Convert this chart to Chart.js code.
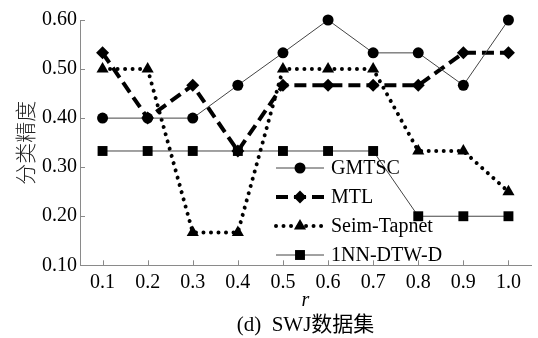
<!DOCTYPE html>
<html>
<head>
<meta charset="utf-8">
<script src="https://cdn.jsdelivr.net/npm/chart.js"></script>
<style>
	html, body { margin: 0; padding: 0; background: #fff; }
	#wrap { width: 538px; height: 338px; position: relative; }
</style>
</head>
<body>
<div id="wrap"><canvas id="myChart"></canvas></div>
<script>
// values (d) SWJ
const rValues = ["0.1", "0.2", "0.3", "0.4", "0.5", "0.6", "0.7", "0.8", "0.9", "1.0"];
const gmtsc = [0.400, 0.400, 0.400, 0.467, 0.533, 0.600, 0.533, 0.533, 0.467, 0.600];
const mtl = [0.533, 0.400, 0.467, 0.333, 0.467, 0.467, 0.467, 0.467, 0.533, 0.533];
const seimTapnet = [0.500, 0.500, 0.167, 0.167, 0.500, 0.500, 0.500, 0.333, 0.333, 0.250];
const nnDtw = [0.333, 0.333, 0.333, 0.333, 0.333, 0.333, 0.333, 0.200, 0.200, 0.200];
const seriesNames = ["GMTSC", "MTL", "Seim-Tapnet", "1NN-DTW-D"];
const yMin = 0.10;
const yMax = 0.60;
const yStep = 0.10;

const serif = "'Liberation Serif', 'Times New Roman', serif";
const axisGray = "#8a8a8a";

function marker(ctx, style, x, y, r) {
	ctx.beginPath();
	if (style === "circle") {
		ctx.arc(x, y, r, 0, Math.PI * 2);
	} else if (style === "rectRot") {
		ctx.moveTo(x, y - r); ctx.lineTo(x + r, y); ctx.lineTo(x, y + r); ctx.lineTo(x - r, y);
	} else if (style === "triangle") {
		ctx.moveTo(x, y - r); ctx.lineTo(x + r * 0.866, y + r * 0.5); ctx.lineTo(x - r * 0.866, y + r * 0.5);
	} else {
		let s = r * Math.SQRT1_2;
		ctx.rect(x - s, y - s, 2 * s, 2 * s);
	}
	ctx.closePath();
	ctx.fillStyle = "#000";
	ctx.fill();
}

// inward tick marks + legend drawn inside the plot area
const extras = {
	id: "extras",
	afterDraw(chart) {
		const c = chart.ctx;
		const xs = chart.scales.x;
		const ys = chart.scales.y;
		const area = chart.chartArea;
		c.save();
		c.strokeStyle = axisGray;
		c.lineWidth = 1;
		ys.ticks.forEach((t, i) => {
			let py = Math.round(ys.getPixelForTick(i)) + 0.5;
			c.beginPath(); c.moveTo(area.left, py); c.lineTo(area.left + 5, py); c.stroke();
		});
		xs.ticks.forEach((t, i) => {
			let px = Math.round(xs.getPixelForTick(i)) + 0.5;
			c.beginPath(); c.moveTo(px, area.bottom); c.lineTo(px, area.bottom - 5); c.stroke();
		});

		// legend
		let lx = area.left + 196;
		let ly = area.top + 148;
		chart.data.datasets.forEach((ds, i) => {
			let y = ly + i * 29;
			c.save();
			c.strokeStyle = ds.legendLine;
			c.lineWidth = ds.borderWidth;
			c.lineCap = ds.borderCapStyle || "butt";
			c.setLineDash(ds.borderDash || []);
			c.beginPath(); c.moveTo(lx, y); c.lineTo(lx + 48, y); c.stroke();
			c.restore();
			marker(c, ds.pointStyle, lx + 24, y, ds.pointRadius);
			c.fillStyle = "#000";
			c.font = "20px " + serif;
			c.textBaseline = "middle";
			c.fillText(ds.label, lx + 55, y + 1);
		});
		c.restore();
	}
};

const ctx = document.getElementById("myChart");

let grafico = new Chart(ctx, {
	type: "line",
	data: {
		labels: rValues,
		datasets: [
			{
				label: seriesNames[0],
				data: gmtsc,
				borderColor: "#444",
				legendLine: "#444",
				borderWidth: 1,
				pointStyle: "circle",
				pointRadius: 5.5,
				pointBackgroundColor: "#000",
				pointBorderColor: "#000",
				pointBorderWidth: 0,
			},
			{
				label: seriesNames[1],
				data: mtl,
				borderColor: "#000",
				legendLine: "#000",
				borderWidth: 4,
				borderDash: [12, 6],
				pointStyle: "rectRot",
				pointRadius: 6.5,
				pointBackgroundColor: "#000",
				pointBorderColor: "#000",
				pointBorderWidth: 0,
			},
			{
				label: seriesNames[2],
				data: seimTapnet,
				borderColor: "#000",
				legendLine: "#000",
				borderWidth: 4,
				borderDash: [0.01, 7.5],
				borderCapStyle: "round",
				pointStyle: "triangle",
				pointRadius: 7,
				pointBackgroundColor: "#000",
				pointBorderColor: "#000",
				pointBorderWidth: 0,
			},
			{
				label: seriesNames[3],
				data: nnDtw,
				borderColor: "#444",
				legendLine: "#444",
				borderWidth: 1,
				pointStyle: "rect",
				pointRadius: 7,
				pointBackgroundColor: "#000",
				pointBorderColor: "#000",
				pointBorderWidth: 0,
			},
		],
	},
	options: {
		responsive: true,
		maintainAspectRatio: false,
		animation: false,
		layout: { padding: { top: 20, right: 3, left: 0, bottom: 0 } },
		elements: { line: { tension: 0 } },
		datasets: { line: { clip: false } },
		plugins: {
			legend: { display: false },
			tooltip: { enabled: false },
			title: {
				display: true,
				fullSize: false,
				position: "bottom",
				text: "(d)  SWJ数据集",
				color: "#000",
				font: { family: serif + ", 'Noto Sans CJK SC'", size: 21, weight: "normal" },
				padding: { top: 0, bottom: 0 },
			},
		},
		scales: {
			x: {
				offset: true,
				grid: { display: false, drawTicks: false },
				border: { display: true, color: axisGray, width: 1 },
				ticks: { color: "#000", padding: 5, font: { family: serif, size: 20 } },
				title: {
					display: true,
					text: "r",
					color: "#000",
					font: { family: serif, size: 20, style: "italic" },
					padding: { top: 0, bottom: 0 },
				},
				afterFit(scale) { scale.height = 47.5; },
			},
			y: {
				min: yMin,
				max: yMax,
				grid: { display: false, drawTicks: false },
				border: { display: true, color: axisGray, width: 1 },
				ticks: {
					stepSize: yStep,
					color: "#000",
					padding: 3,
					font: { family: serif, size: 20 },
					callback: (v) => v.toFixed(2),
				},
				title: {
					display: true,
					text: "分类精度",
					color: "#222",
					font: { family: "'Noto Sans CJK SC'", size: 21, weight: "300" },
					padding: { top: 12, bottom: 0 },
				},
				afterFit(scale) { scale.width = 80; },
			},
		},
	},
	plugins: [extras],
});
</script>
</body>
</html>
